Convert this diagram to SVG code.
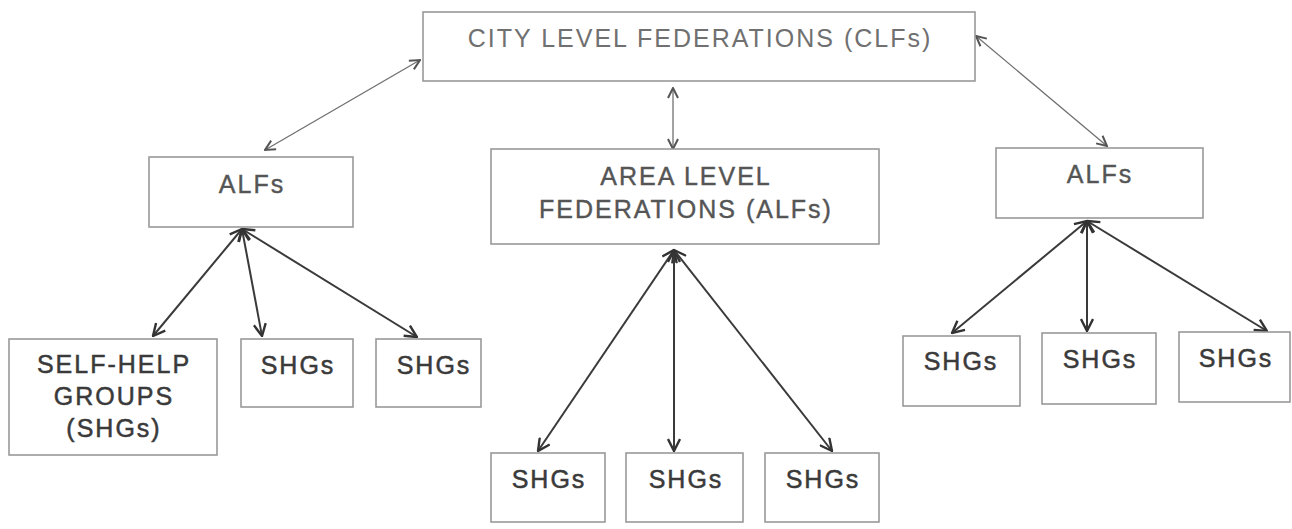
<svg xmlns="http://www.w3.org/2000/svg" width="1292" height="529" viewBox="0 0 1292 529">
<style>
  .box { fill: #ffffff; stroke: #999999; stroke-width: 1.6; }
  .t { font-family: "Liberation Sans", Arial, sans-serif; font-size: 25px; letter-spacing: 2px; text-anchor: middle; }
  .tclf { fill: #707070; }
  .talf { fill: #555555; stroke: #555555; stroke-width: 0.4; }
  .tshg { fill: #3a3a3a; stroke: #3a3a3a; stroke-width: 0.5; }
  .thin { stroke: #707070; stroke-width: 1.3; fill: none; marker-start: url(#ah); marker-end: url(#ah); }
  .thick { stroke: #3a3a3a; stroke-width: 2; fill: none; marker-start: url(#ahd); marker-end: url(#ahd); }
</style>
<defs>
  <marker id="ah" viewBox="0 0 12 12" refX="11" refY="6" markerWidth="12" markerHeight="12" markerUnits="userSpaceOnUse" orient="auto-start-reverse">
    <path d="M1,1 L11,6 L1,11" fill="none" stroke="#555555" stroke-width="2"/>
  </marker>
  <marker id="ahd" viewBox="0 0 14 14" refX="13" refY="7" markerWidth="14" markerHeight="14" markerUnits="userSpaceOnUse" orient="auto-start-reverse">
    <path d="M1,1 L13,7 L1,13" fill="none" stroke="#333333" stroke-width="2.4"/>
  </marker>
</defs>
<rect width="1292" height="529" fill="#ffffff"/>

<g id="connectors">
  <line class="thin" x1="420" y1="60" x2="265" y2="150"/>
  <line class="thin" x1="673" y1="88" x2="673" y2="149"/>
  <line class="thin" x1="976" y1="36" x2="1107" y2="146"/>

  <line class="thick" x1="242" y1="229" x2="153" y2="336"/>
  <line class="thick" x1="242" y1="229" x2="262" y2="336"/>
  <line class="thick" x1="242" y1="229" x2="417" y2="337"/>

  <line class="thick" x1="674" y1="250" x2="538" y2="451"/>
  <line class="thick" x1="674" y1="250" x2="674" y2="451"/>
  <line class="thick" x1="674" y1="250" x2="832" y2="451"/>

  <line class="thick" x1="1087" y1="221" x2="952" y2="333"/>
  <line class="thick" x1="1087" y1="221" x2="1087" y2="331"/>
  <line class="thick" x1="1087" y1="221" x2="1267" y2="331"/>
</g>

<g id="clf">
  <rect class="box" x="423" y="12" width="552" height="69"/>
  <text class="t tclf" x="700" y="47">CITY LEVEL FEDERATIONS (CLFs)</text>
</g>

<g id="alf-left">
  <rect class="box" x="149" y="157" width="204" height="70"/>
  <text class="t talf" x="252" y="193">ALFs</text>
</g>

<g id="alf-center">
  <rect class="box" x="491" y="149" width="388" height="95"/>
  <text class="t talf" x="686" y="185">AREA LEVEL</text>
  <text class="t talf" x="686" y="218">FEDERATIONS (ALFs)</text>
</g>

<g id="alf-right">
  <rect class="box" x="996" y="148" width="207" height="70"/>
  <text class="t talf" x="1100" y="183">ALFs</text>
</g>

<g id="shg-l1">
  <rect class="box" x="9" y="339" width="208" height="116"/>
  <text class="t tshg" x="114" y="373">SELF-HELP</text>
  <text class="t tshg" x="114" y="405">GROUPS</text>
  <text class="t tshg" x="114" y="437">(SHGs)</text>
</g>
<g id="shg-l2">
  <rect class="box" x="241" y="339" width="112" height="68"/>
  <text class="t tshg" x="298" y="374">SHGs</text>
</g>
<g id="shg-l3">
  <rect class="box" x="376" y="339" width="105" height="68"/>
  <text class="t tshg" x="434" y="374">SHGs</text>
</g>

<g id="shg-c1">
  <rect class="box" x="491" y="453" width="114" height="69"/>
  <text class="t tshg" x="549" y="488">SHGs</text>
</g>
<g id="shg-c2">
  <rect class="box" x="626" y="453" width="117" height="69"/>
  <text class="t tshg" x="686" y="488">SHGs</text>
</g>
<g id="shg-c3">
  <rect class="box" x="765" y="453" width="114" height="69"/>
  <text class="t tshg" x="823" y="488">SHGs</text>
</g>

<g id="shg-r1">
  <rect class="box" x="903" y="336" width="117" height="70"/>
  <text class="t tshg" x="961" y="370">SHGs</text>
</g>
<g id="shg-r2">
  <rect class="box" x="1042" y="333" width="114" height="71"/>
  <text class="t tshg" x="1100" y="368">SHGs</text>
</g>
<g id="shg-r3">
  <rect class="box" x="1179" y="332" width="111" height="70"/>
  <text class="t tshg" x="1236" y="367">SHGs</text>
</g>
</svg>
